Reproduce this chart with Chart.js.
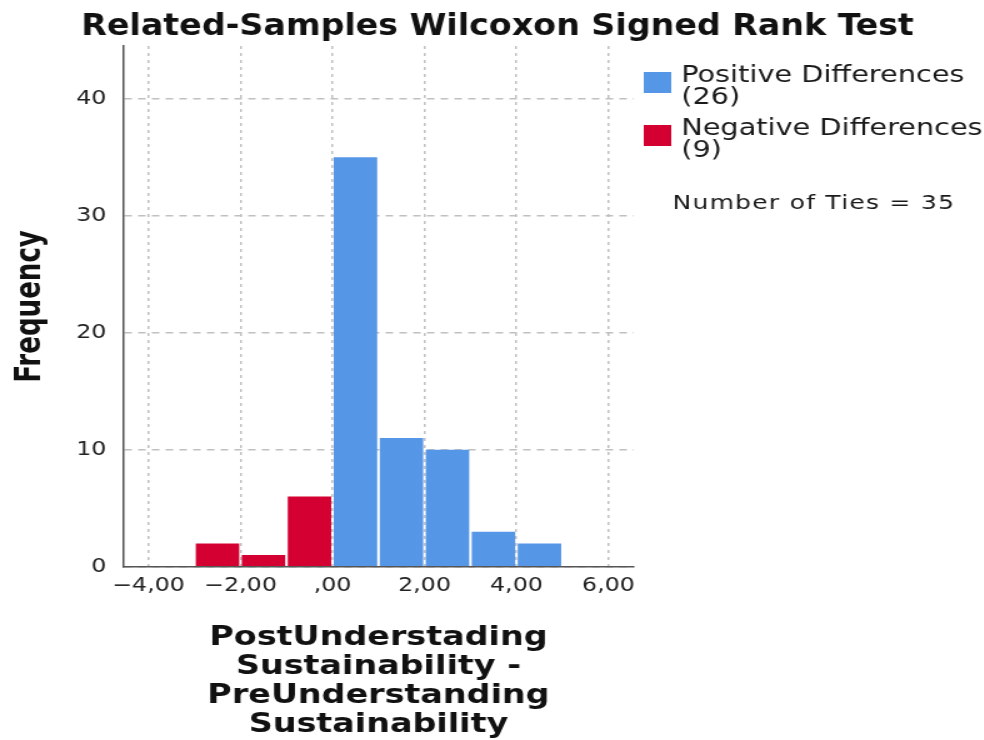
<!DOCTYPE html>
<html>
<head>
<meta charset="utf-8">
<script src="https://cdn.jsdelivr.net/npm/chart.js@4.4.1/dist/chart.umd.min.js"></script>
<style>
html, body { margin: 0; padding: 0; background: #fff; overflow: hidden; }
/* the reference is stretched sideways, so the chart is drawn narrow and widened */
#wrap { width: 787px; height: 740px; transform: scaleX(1.25); transform-origin: 0 0; }
</style>
</head>
<body>
<div id="wrap"><canvas id="histogram" width="787" height="740"></canvas></div>
<script>
var negCenters = [-2.5, -1.5, -0.5];
var negCounts = [2, 1, 6];
var posCenters = [0.5, 1.5, 2.5, 3.5, 4.5];
var posCounts = [35, 11, 10, 3, 2];
var xTicks = [-4, -2, 0, 2, 4, 6];
var xTickLabels = ['\u22124,00', '\u22122,00', ',00', '2,00', '4,00', '6,00'];
var yTicks = [0, 10, 20, 30, 40];
var seriesNames = ['Positive Differences', 'Negative Differences'];
var seriesTotals = ['(26)', '(9)'];
var tiesText = 'Number of Ties = 35';
var chartTitle = 'Related-Samples Wilcoxon Signed Rank Test';

var blue = '#5596e6';
var red = '#d50032';
var condensed = '"DejaVu Sans Condensed", "DejaVu Sans", sans-serif';
var plain = '"DejaVu Sans", sans-serif';

function points(xs, ys) {
    return xs.map(function (x, i) { return { x: x, y: ys[i] }; });
}

// title across the whole page, legend and ties note on the right of the plot
var sideLegend = {
    id: 'sideLegend',
    afterDraw: function (chart) {
        var c = chart.ctx;
        var x0 = chart.chartArea.right;
        var colors = [blue, red];
        c.save();
        c.textBaseline = 'alphabetic';
        c.fillStyle = '#111';
        c.textAlign = 'center';
        c.font = 'bold 29.6px ' + condensed;
        c.fillText(chartTitle, 398, 35);

        c.textAlign = 'left';
        for (var i = 0; i < seriesNames.length; i++) {
            var top = 72 + i * 53;
            c.fillStyle = colors[i];
            c.fillRect(x0 + 8, top, 22, 21);
            c.fillStyle = '#1a1a1a';
            c.font = '23px ' + plain;
            c.fillText(seriesNames[i], x0 + 38, top + 10);
            c.fillText(seriesTotals[i], x0 + 38, top + 32);
        }
        c.font = '20px ' + plain;
        c.letterSpacing = '1px';
        c.fillText(tiesText, x0 + 31, 209);
        c.restore();
    }
};

var ctx = document.getElementById('histogram').getContext('2d');
var myChart = new Chart(ctx, {
    type: 'bar',
    data: {
        datasets: [{
            label: seriesNames[0],
            data: points(posCenters, posCounts),
            backgroundColor: blue,
            borderWidth: 0,
            grouped: false,
            barPercentage: 1,
            categoryPercentage: 0.945
        }, {
            label: seriesNames[1],
            data: points(negCenters, negCounts),
            backgroundColor: red,
            borderWidth: 0,
            grouped: false,
            barPercentage: 1,
            categoryPercentage: 0.945
        }]
    },
    options: {
        responsive: false,
        animation: false,
        devicePixelRatio: 1,
        layout: { padding: { left: 0, right: 280, top: 46, bottom: 0 } },
        plugins: {
            legend: { display: false },
            tooltip: { enabled: false },
            title: { display: false }
        },
        scales: {
            x: {
                type: 'linear',
                min: -4.55,
                max: 6.55,
                offset: false,
                afterBuildTicks: function (scale) {
                    scale.ticks = xTicks.map(function (v) { return { value: v }; });
                },
                ticks: {
                    autoSkip: false,
                    maxRotation: 0,
                    padding: 8,
                    color: '#222',
                    font: { family: plain, size: 19 },
                    callback: function (value) { return xTickLabels[xTicks.indexOf(value)]; }
                },
                grid: { offset: false, color: '#c0c0c0', lineWidth: 1.5, drawTicks: false },
                border: { display: true, color: '#555', width: 1.5, dash: [3, 4] },
                title: {
                    display: true,
                    text: ['PostUnderstading', 'Sustainability -', 'PreUnderstanding', 'Sustainability'],
                    color: '#111',
                    font: { family: plain, size: 26.7, weight: 'bold', lineHeight: 1.09 },
                    padding: { top: 18, bottom: 0 }
                }
            },
            y: {
                min: 0,
                max: 44.5,
                afterBuildTicks: function (scale) {
                    scale.ticks = yTicks.map(function (v) { return { value: v }; });
                },
                ticks: {
                    padding: 13.5,
                    color: '#222',
                    font: { family: plain, size: 19 },
                    callback: function (value) { return String(value); }
                },
                grid: { color: '#c0c0c0', lineWidth: 1.5, drawTicks: false },
                border: { display: true, color: '#555', width: 1.5, dash: [6, 5] },
                title: {
                    display: true,
                    text: 'Frequency',
                    color: '#111',
                    font: { family: condensed, size: 29, weight: 'bold', lineHeight: 1.2 },
                    padding: { top: 6.6, bottom: 6 }
                }
            }
        }
    },
    plugins: [sideLegend]
});
</script>
</body>
</html>
